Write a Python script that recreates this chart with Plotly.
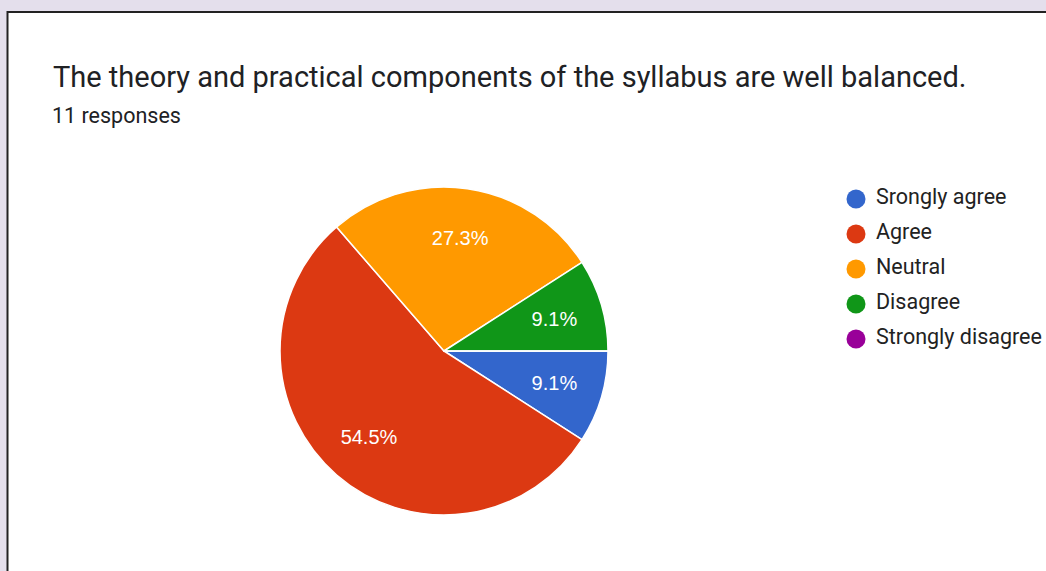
import plotly.graph_objects as go

# survey answers
labels = ['Srongly agree', 'Agree', 'Neutral', 'Disagree', 'Strongly disagree']
counts = [1, 6, 3, 1, 0]
colors = ['#3366cc', '#dc3912', '#ff9900', '#109618', '#990099']

title = 'The theory and practical components of the syllabus are well balanced.'
subtitle = '11 responses'

W, H = 1046, 571

# pie placement in pixels
cx, cy, r = 444, 351, 164

def dom(rad):
    return dict(x=[(cx - rad) / W, (cx + rad) / W], y=[1 - (cy + rad) / H, 1 - (cy - rad) / H])

fig = go.Figure()

# slices
fig.add_trace(go.Pie(
    labels=labels, values=counts, sort=False,
    direction='clockwise', rotation=90,
    marker=dict(colors=colors, line=dict(color='white', width=1.5)),
    textinfo='none', showlegend=False, hoverinfo='label+percent',
    domain=dom(r),
))

# percentage labels, pushed out to ~0.7 of the radius like google charts does
fig.add_trace(go.Pie(
    labels=labels, values=counts, sort=False,
    direction='clockwise', rotation=90, hole=0.55,
    marker=dict(colors=['rgba(0,0,0,0)'] * len(labels), line=dict(width=0)),
    texttemplate='%{percent:.1%}', textposition='inside', insidetextorientation='horizontal',
    textfont=dict(color='white', size=20, family='Arial'),
    showlegend=False, hoverinfo='skip',
    domain=dom(r * 0.9),
))

# legend with round symbols
fig.add_trace(go.Scatter(
    x=[20] * len(labels), y=list(range(len(labels))),
    mode='markers', marker=dict(color=colors, size=19, symbol='circle', line=dict(width=0)),
    showlegend=False, hoverinfo='skip', cliponaxis=False,
))
fig.add_trace(go.Scatter(
    x=[40] * len(labels), y=list(range(len(labels))),
    mode='text', text=labels, textposition='middle right',
    textfont=dict(color='#222222', size=21.5, family='Roboto'),
    showlegend=False, hoverinfo='skip', cliponaxis=False,
))

fig.update_layout(
    width=W, height=H,
    margin=dict(l=0, r=0, t=0, b=0),
    paper_bgcolor='#e4dfec', plot_bgcolor='rgba(0,0,0,0)',
    font=dict(family='Roboto'),
    xaxis=dict(domain=[836 / W, 1.0], range=[0, 210], visible=False, fixedrange=True),
    yaxis=dict(domain=[1 - 356.5 / H, 1 - 181.5 / H], range=[4.5, -0.5], visible=False, fixedrange=True),
    shapes=[dict(type='rect', xref='paper', yref='paper', x0=7.5 / W, x1=1.01, y0=-0.01, y1=1 - 12 / H,
                 fillcolor='white', line=dict(color='#222222', width=2), layer='below')],
    annotations=[
        dict(text=title, xref='paper', yref='paper', x=51 / W, y=1 - 58 / H, xanchor='left', yanchor='top',
             showarrow=False, font=dict(size=29, color='#202124', family='Roboto')),
        dict(text=subtitle, xref='paper', yref='paper', x=50 / W, y=1 - 101 / H, xanchor='left', yanchor='top',
             showarrow=False, font=dict(size=21.5, color='#202124', family='Roboto')),
    ],
)

fig.write_html('out.html', config={'displayModeBar': False},
               post_script="document.body.style.margin='0';")
